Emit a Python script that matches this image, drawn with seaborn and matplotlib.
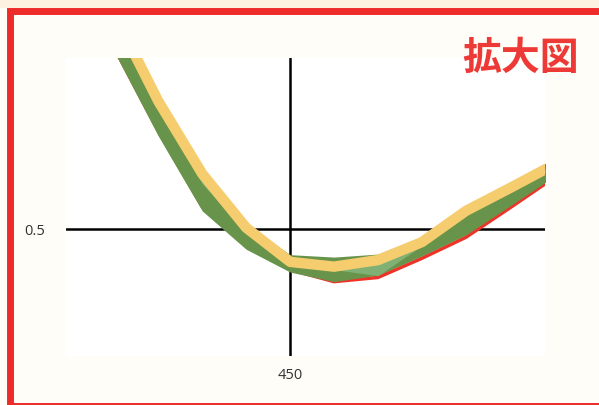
import numpy as np
import pandas as pd
import matplotlib.pyplot as plt
import matplotlib.patches as patches
import seaborn as sns

wavelength = [400, 410, 420, 430, 440, 450, 460, 470, 480, 490, 500, 510]
yellow_line = [0.950, 0.858, 0.713, 0.592, 0.502, 0.445, 0.437, 0.448, 0.478, 0.530, 0.568, 0.607]
green_upper = [0.958, 0.867, 0.720, 0.600, 0.508, 0.457, 0.453, 0.458, 0.487, 0.538, 0.577, 0.617]
green_lower = [0.890, 0.795, 0.655, 0.530, 0.466, 0.428, 0.412, 0.423, 0.455, 0.490, 0.538, 0.587]
light_lower = [0.930, 0.850, 0.705, 0.575, 0.495, 0.440, 0.432, 0.422, 0.472, 0.525, 0.562, 0.602]
red_line = [0.895, 0.802, 0.663, 0.537, 0.472, 0.432, 0.412, 0.419, 0.451, 0.486, 0.535, 0.585]

df = pd.DataFrame({'wl': wavelength, 'yellow': yellow_line, 'red': red_line})

sns.set_theme(style='white')
plt.rcParams['font.family'] = ['Open Sans', 'DejaVu Sans']

fig = plt.figure(figsize=(5.99, 4.06), dpi=100, facecolor='#fffdf8')
ax = fig.add_axes([66 / 599, 49 / 406, 479 / 599, 298 / 406])
ax.set_facecolor('white')

# strip above the frame
fig.patches.append(patches.Rectangle((0, 1 - 9 / 406), 1, 9 / 406, transform=fig.transFigure,
                                     facecolor='#fdf2e1', edgecolor='none', zorder=0))

sns.lineplot(data=df, x='wl', y='red', color='#ee3329', lw=2.5, ax=ax, zorder=2)
ax.fill_between(wavelength, green_lower, green_upper, color='#67944a', lw=0, zorder=3)
ax.fill_between(wavelength, light_lower, yellow_line, color='#80b073', lw=0, zorder=4)
sns.lineplot(data=df, x='wl', y='yellow', color='#f6cd6e', lw=7.5, ax=ax, zorder=5)

ax.axhline(0.5, color='black', lw=1.8, zorder=1)
ax.axvline(450, color='black', lw=1.8, zorder=1)

ax.set_xlim(399, 508)
ax.set_ylim(0.288, 0.785)
ax.set_xticks([450])
ax.set_yticks([0.5])
ax.set_xticklabels(['450'])
ax.set_yticklabels(['0.5'])
ax.tick_params(axis='both', length=0, labelsize=10.5, labelcolor='#333333')
ax.tick_params(axis='y', pad=15)
ax.tick_params(axis='x', pad=8)
ax.set_xlabel('')
ax.set_ylabel('')
for s in ax.spines.values():
    s.set_visible(False)

# red frame round the picture
fig.patches.append(patches.Rectangle((10 / 599, 1 - 406.5 / 406), (600.5 - 10) / 599, (406.5 - 12) / 406,
                                     transform=fig.transFigure, fill=False,
                                     edgecolor='#ee2b2b', lw=5.0, zorder=10))

fig.text(520 / 599, 1 - 58 / 406, '拡大図', color='#ee3a36', fontsize=28, fontweight='bold',
         family=['Noto Sans CJK JP', 'DejaVu Sans'], ha='center', va='center')

fig.savefig('out.png', dpi=100, facecolor=fig.get_facecolor())
